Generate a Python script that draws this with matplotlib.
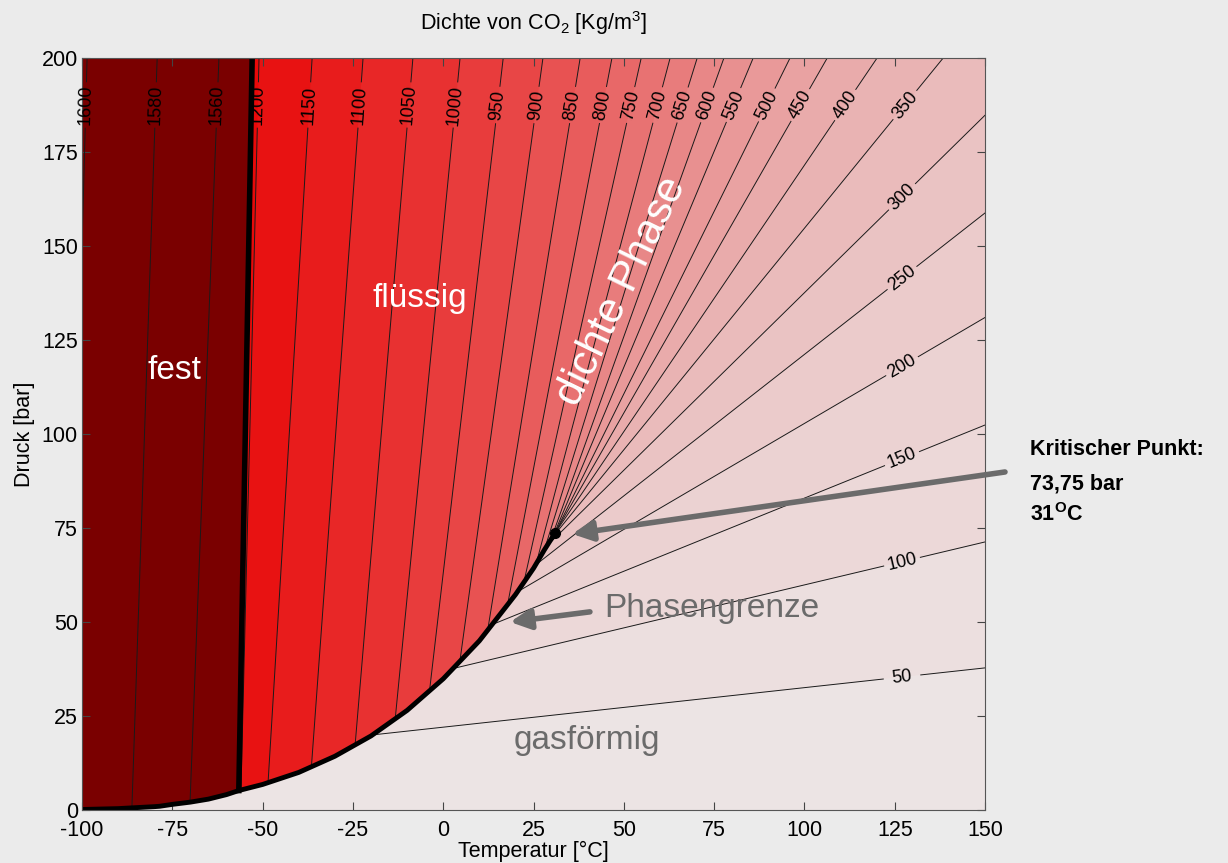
import numpy as np
import matplotlib
matplotlib.use("Agg")
import matplotlib.pyplot as plt
from matplotlib.colors import LinearSegmentedColormap, Normalize

plt.rcParams['font.family'] = ['Liberation Sans', 'DejaVu Sans']
plt.rcParams['mathtext.fontset'] = 'custom'
plt.rcParams['mathtext.rm'] = 'Liberation Sans'
plt.rcParams['mathtext.bf'] = 'Liberation Sans:bold'
plt.rcParams['axes.unicode_minus'] = False

# --- phase boundaries (T in degC, p in bar) ---
subl_T = [-100, -90, -80, -78.5, -75, -70, -65, -60, -56.6]
subl_p = [0.14, 0.37, 0.89, 1.0, 1.5, 2.1, 2.9, 4.1, 5.18]
vap_T = [-50, -40, -30, -20, -10, 0, 10, 20, 25, 28, 31]
vap_p = [6.8, 10.0, 14.3, 19.7, 26.5, 34.9, 45.0, 57.3, 64.3, 69.2, 73.75]
melt_T = [-56.6, -52.9]
melt_p = [5.18, 200]
crit_T, crit_p = 31.0, 73.75

# --- density isolines [kg/m3]: start on phase boundary, end on top (p=200) or right edge (T=150) ---
liq_levels = [1200, 1150, 1100, 1050, 1000, 950, 900, 850, 800, 750, 700, 650, 600, 550, 500]
liq_T0 = [-56.0, -48.5, -36.5, -24.4, -13.3, -3.8, 4.6, 12.3, 17.8, 22.3, 25.7, 28.0, 29.8, 30.5, 30.9]
liq_T1 = [-51.0, -36.3, -22.2, -8.4, 4.65, 16.6, 27.6, 37.9, 46.7, 54.8, 62.8, 70.3, 77.7, 85.8, 96.0]

gas_levels = [450, 400, 350, 300, 250, 200, 150, 100, 50]
gas_T0 = [31.0, 30.7, 30.0, 28.7, 25.5, 20.5, 13.5, 2.7, -19.6]
gas_T1 = [106.3, 120.1, 138.4, 150, 150, 150, 150, 150, 150]
gas_p1 = [200, 200, 200, 184.8, 158.8, 131.0, 102.4, 71.3, 37.8]

solid_levels = [1600, 1580, 1560]
solid_T0 = [-100, -86.2, -70.1]
solid_p0 = [150, 0.45, 2.1]
solid_T1 = [-98.6, -79.2, -62.1]

# colour scale of the fluid densities
cmap = LinearSegmentedColormap.from_list("co2", [
    (0.0, (0.925, 0.905, 0.905)),
    (0.1, (0.925, 0.850, 0.850)),
    (0.2, (0.920, 0.785, 0.785)),
    (0.3, (0.915, 0.705, 0.705)),
    (0.4, (0.915, 0.625, 0.625)),
    (0.5, (0.910, 0.540, 0.540)),
    (0.6, (0.910, 0.440, 0.440)),
    (0.7, (0.910, 0.335, 0.335)),
    (0.8, (0.910, 0.230, 0.230)),
    (0.9, (0.910, 0.130, 0.130)),
    (1.0, (0.910, 0.035, 0.035)),
])
norm = Normalize(0, 1225)

bnd_T = np.array(subl_T + vap_T)
bnd_p = np.array(subl_p + vap_p)

fig = plt.figure(figsize=(12.28, 8.63), dpi=100, facecolor='#ebebeb')
ax = fig.add_axes([0.0668, 0.0614, 0.7354, 0.8714])
ax.set_xlim(-100, 150)
ax.set_ylim(0, 200)

# all contour lines in one list: (level, T0, p0, T1, p1)
lines = []
for L, a, b in zip(liq_levels, liq_T0, liq_T1):
    lines.append((L, a, np.interp(a, bnd_T, bnd_p), b, 200.0))
for L, a, b, c in zip(gas_levels, gas_T0, gas_T1, gas_p1):
    lines.append((L, a, np.interp(a, bnd_T, bnd_p), b, c))


def region_right_of(T0, p0, T1, p1):
    # area with lower density than the isoline
    pts = [(T0, p0), (T1, p1)]
    if p1 >= 200:
        pts.append((150, 200))
    pts += [(150, 0), (-100, 0)]
    keep = bnd_T < T0
    pts += list(zip(bnd_T[keep], bnd_p[keep]))
    return np.array(pts)


# fluid base (right of melting line)
base = region_right_of(melt_T[0], melt_p[0], melt_T[1], melt_p[1])
ax.fill(base[:, 0], base[:, 1], color=cmap(1.0), lw=0)
for L, a, pa, b, pb in lines:
    poly = region_right_of(a, pa, b, pb)
    ax.fill(poly[:, 0], poly[:, 1], color=cmap(norm(L - 25)), lw=0)

# solid region
sol = [(-100, 200), (melt_T[1], melt_p[1]), (melt_T[0], melt_p[0])]
sol += list(zip(subl_T[::-1], subl_p[::-1]))
sol = np.array(sol)
ax.fill(sol[:, 0], sol[:, 1], color='#7a0000', lw=0)


def draw_line(L, T0, p0, T1, p1):
    if p1 >= 200:
        t = (187.5 - p0) / (p1 - p0)
    else:
        t = (127 - T0) / (T1 - T0)
    a = ax.transData.transform((T0, p0))
    b = ax.transData.transform((T1, p1))
    d = b - a
    length = np.hypot(*d)
    half = (13 if L < 1000 else 16) * 1.45 / length
    for s0, s1 in [(0, t - half), (t + half, 1)]:
        if s1 > s0:
            ax.plot([T0 + (T1 - T0) * s0, T0 + (T1 - T0) * s1],
                    [p0 + (p1 - p0) * s0, p0 + (p1 - p0) * s1],
                    color='#1a1a1a', lw=0.7)
    ang = np.degrees(np.arctan2(d[1], d[0]))
    ax.text(T0 + (T1 - T0) * t, p0 + (p1 - p0) * t, str(L), rotation=ang,
            rotation_mode='anchor', ha='center', va='center', fontsize=13,
            color='black')


for L, a, pa, b, pb in lines:
    draw_line(L, a, pa, b, pb)
for L, a, pa, b in zip(solid_levels, solid_T0, solid_p0, solid_T1):
    draw_line(L, a, pa, b, 200.0)

# phase boundaries
ax.plot(list(bnd_T), list(bnd_p), color='black', lw=3.5, solid_capstyle='butt')
ax.plot(melt_T, melt_p, color='black', lw=4)
ax.plot([crit_T], [crit_p], 'o', color='black', ms=7)

# region names
ax.text(-74.3, 117, 'fest', color='white', fontsize=24, ha='center', va='center')
ax.text(-6.4, 136, 'flüssig', color='white', fontsize=24, ha='center', va='center')
ax.text(49.5, 138, 'dichte Phase', color='white', fontsize=31, ha='center',
        va='center', rotation=64)
ax.text(74.4, 53.5, 'Phasengrenze', color='#6b6b6b', fontsize=24, ha='center', va='center')
ax.text(39.8, 18.6, 'gasförmig', color='#6b6b6b', fontsize=24, ha='center', va='center')

arrow = dict(arrowstyle='-|>,head_length=0.8,head_width=0.4', lw=4,
             color='#6b6b6b', shrinkA=0, shrinkB=0, mutation_scale=15)
ax.annotate('', xy=(35.7, 73.4), xytext=(0.8184, 0.4531),
            textcoords='figure fraction', arrowprops=arrow, annotation_clip=False)
ax.annotate('', xy=(18.5, 50), xytext=(40.6, 52.7), arrowprops=arrow)

fig.text(0.8388, 0.4786, 'Kritischer Punkt:', fontsize=15.5, fontweight='bold', va='center')
fig.text(0.8388, 0.4392, '73,75 bar', fontsize=15.5, fontweight='bold', va='center')
fig.text(0.8388, 0.4032, r'31$^{\mathbf{O}}$C', fontsize=15.5, fontweight='bold', va='center')

ax.set_xticks(np.arange(-100, 151, 25))
ax.set_yticks(np.arange(0, 201, 25))
ax.tick_params(direction='in', top=True, right=True, length=6, labelsize=15.5,
               color='#444444')
ax.tick_params(axis='x', pad=7)
ax.tick_params(axis='y', pad=3)
for sp in ax.spines.values():
    sp.set_color('#555555')
ax.set_xlabel('Temperatur [°C]', fontsize=15.5, labelpad=0)
ax.set_ylabel('Druck [bar]', fontsize=15.5, labelpad=5)
ax.set_title(r'Dichte von CO$_2$ [Kg/m$^3$]', fontsize=15.5, pad=20)

fig.savefig('out.png', dpi=100, facecolor=fig.get_facecolor())
